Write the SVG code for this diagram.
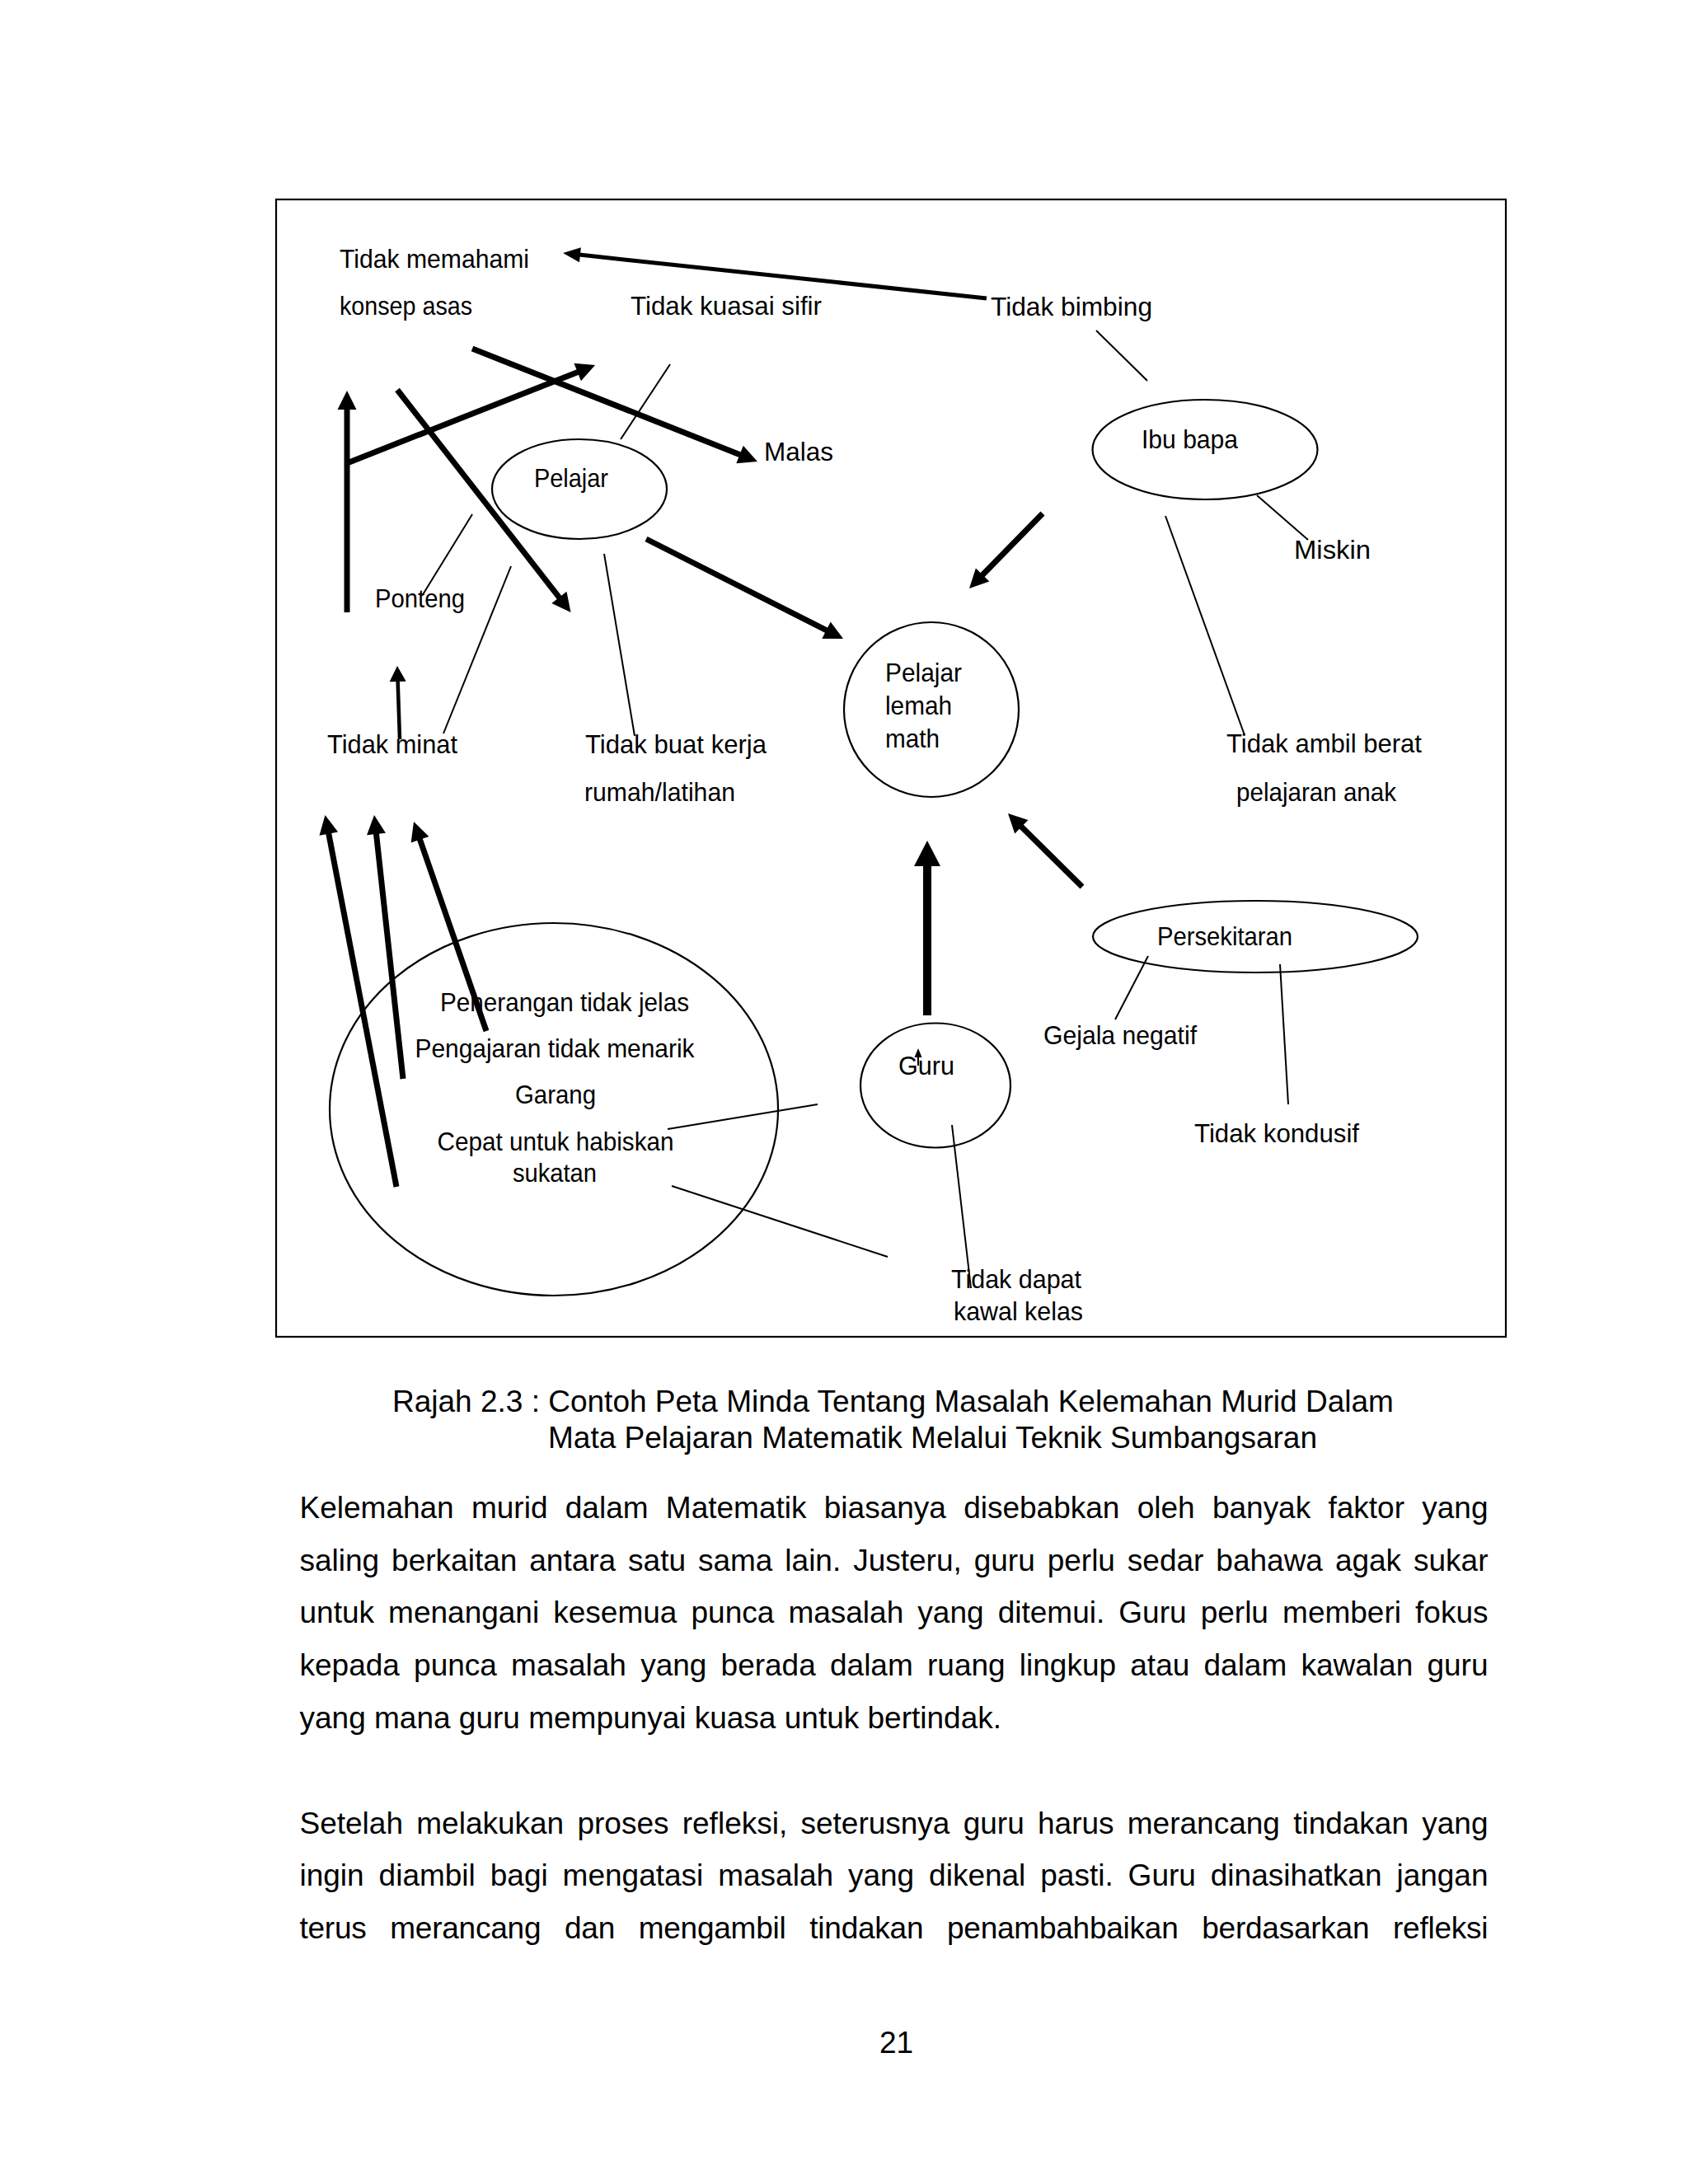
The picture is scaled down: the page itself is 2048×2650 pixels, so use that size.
<svg xmlns="http://www.w3.org/2000/svg" width="2048" height="2650" viewBox="0 0 2048 2650">
<style>
.t{font-family:"Liberation Sans",Arial,sans-serif;font-size:32px;fill:#000}
.b{font-family:"Liberation Sans",Arial,sans-serif;font-size:37px;fill:#000}
.n{fill:none;stroke:#000;stroke-width:2.2}
.thin{stroke:#000;stroke-width:2;fill:none}
.thick{stroke:#000;stroke-width:7;fill:none;marker-end:url(#ah)}
</style>
<defs>
<marker id="ah" markerUnits="userSpaceOnUse" markerWidth="30" markerHeight="30" refX="0" refY="0" orient="auto" overflow="visible"><path d="M-1,-11.5 L22,0 L-1,11.5 z" fill="#000"/></marker>
<marker id="ahm" markerUnits="userSpaceOnUse" markerWidth="30" markerHeight="30" refX="0" refY="0" orient="auto" overflow="visible"><path d="M-1,-9 L20,0 L-1,9 z" fill="#000"/></marker>
<marker id="ahs" markerUnits="userSpaceOnUse" markerWidth="30" markerHeight="30" refX="0" refY="0" orient="auto" overflow="visible"><path d="M-1,-10 L18,0 L-1,10 z" fill="#000"/></marker>
<marker id="ahg" markerUnits="userSpaceOnUse" markerWidth="40" markerHeight="40" refX="0" refY="0" orient="auto" overflow="visible"><path d="M-1,-16 L30,0 L-1,16 z" fill="#000"/></marker>
<marker id="aht" markerUnits="userSpaceOnUse" markerWidth="20" markerHeight="20" refX="0" refY="0" orient="auto" overflow="visible"><path d="M-1,-4.5 L10,0 L-1,4.5 z" fill="#000"/></marker>
</defs>
<rect width="2048" height="2650" fill="#fff"/>
<rect id="frame" x="335" y="242" width="1492" height="1380" fill="none" stroke="#000" stroke-width="2.2"/>

<g id="connectors">
<line x1="1197" y1="362" x2="702.9" y2="309.1" stroke="#000" stroke-width="5" marker-end="url(#ahm)"/>
<line class="thick" x1="573" y1="423" x2="898.5" y2="551.9"/>
<line class="thick" x1="421" y1="562" x2="701.6" y2="451.2"/>
<line class="thick" x1="421" y1="743" x2="421" y2="496"/>
<line class="thick" x1="482" y1="473" x2="679" y2="725.7"/>
<line class="thick" x1="784" y1="654" x2="1003.4" y2="765.1"/>
<line class="thick" x1="1265" y1="623" x2="1191.4" y2="698.3" stroke-width="8"/>
<line class="thick" x1="1313" y1="1076" x2="1238.6" y2="1002.5" stroke-width="6.5"/>
<line x1="1125" y1="1232" x2="1125" y2="1050" stroke="#000" stroke-width="10" marker-end="url(#ahg)"/>
<line x1="1114" y1="1293" x2="1114" y2="1282" stroke="#000" stroke-width="2" marker-end="url(#aht)"/>
<line x1="485" y1="897" x2="482.6" y2="826" stroke="#000" stroke-width="4.5" marker-end="url(#ahs)"/>
<line class="thick" x1="481" y1="1440" x2="398.6" y2="1010.6"/>
<line class="thick" x1="489" y1="1309" x2="456.4" y2="1010.9"/>
<line class="thick" x1="590" y1="1251" x2="509.2" y2="1017.8"/>
<line class="thin" x1="813" y1="442" x2="753" y2="533"/>
<line class="thin" x1="573" y1="624" x2="512" y2="723"/>
<line class="thin" x1="620" y1="687" x2="538" y2="890"/>
<line class="thin" x1="733" y1="672" x2="770" y2="893"/>
<line class="thin" x1="1330" y1="401" x2="1392" y2="462"/>
<line class="thin" x1="1525" y1="601" x2="1587" y2="655"/>
<line class="thin" x1="1414" y1="626" x2="1510" y2="892"/>
<line class="thin" x1="1393" y1="1160" x2="1353" y2="1237"/>
<line class="thin" x1="1553" y1="1170" x2="1563" y2="1340"/>
<line class="thin" x1="1155" y1="1365" x2="1178" y2="1563"/>
<line class="thin" x1="810" y1="1370" x2="992" y2="1340"/>
<line class="thin" x1="815" y1="1439" x2="1077" y2="1525"/>
</g>

<g id="node-pelajar"><ellipse class="n" cx="703" cy="593.5" rx="106" ry="60.5"/><text class="t" x="648" y="591" textLength="90" lengthAdjust="spacingAndGlyphs">Pelajar</text></g>
<g id="node-ibubapa"><ellipse class="n" cx="1462" cy="545.5" rx="136.5" ry="60.5"/><text class="t" x="1385" y="544" textLength="117" lengthAdjust="spacingAndGlyphs">Ibu bapa</text></g>
<g id="node-center"><ellipse class="n" cx="1130" cy="861" rx="106" ry="106"/>
<text class="t" x="1074" y="827" textLength="93" lengthAdjust="spacingAndGlyphs">Pelajar</text>
<text class="t" x="1074" y="867" textLength="81" lengthAdjust="spacingAndGlyphs">lemah</text>
<text class="t" x="1074" y="907" textLength="66" lengthAdjust="spacingAndGlyphs">math</text></g>
<g id="node-persekitaran"><ellipse class="n" cx="1523" cy="1136.5" rx="197" ry="43.5"/><text class="t" x="1404" y="1147" textLength="164" lengthAdjust="spacingAndGlyphs">Persekitaran</text></g>
<g id="node-guru"><ellipse class="n" cx="1135" cy="1317" rx="91" ry="75.5"/><text class="t" x="1090" y="1304" textLength="68" lengthAdjust="spacingAndGlyphs">Guru</text></g>
<g id="node-guru-issues"><ellipse class="n" cx="672" cy="1346" rx="272" ry="226"/>
<text class="t" x="534" y="1227" textLength="302" lengthAdjust="spacingAndGlyphs">Penerangan tidak jelas</text>
<text class="t" x="503.5" y="1283" textLength="339" lengthAdjust="spacingAndGlyphs">Pengajaran tidak menarik</text>
<text class="t" x="625" y="1339" textLength="98" lengthAdjust="spacingAndGlyphs">Garang</text>
<text class="t" x="530.5" y="1396" textLength="287" lengthAdjust="spacingAndGlyphs">Cepat untuk habiskan</text>
<text class="t" x="622" y="1434" textLength="102" lengthAdjust="spacingAndGlyphs">sukatan</text></g>

<g id="label-memahami"><text class="t" x="412" y="325" textLength="230" lengthAdjust="spacingAndGlyphs">Tidak memahami</text><text class="t" x="412" y="382" textLength="161" lengthAdjust="spacingAndGlyphs">konsep asas</text></g>
<g id="label-sifir"><text class="t" x="765" y="382" textLength="232" lengthAdjust="spacingAndGlyphs">Tidak kuasai sifir</text></g>
<g id="label-bimbing"><text class="t" x="1202" y="383" textLength="196" lengthAdjust="spacingAndGlyphs">Tidak bimbing</text></g>
<g id="label-malas"><text class="t" x="927" y="559" textLength="84" lengthAdjust="spacingAndGlyphs">Malas</text></g>
<g id="label-miskin"><text class="t" x="1570" y="678" textLength="93" lengthAdjust="spacingAndGlyphs">Miskin</text></g>
<g id="label-ponteng"><text class="t" x="455" y="737" textLength="109" lengthAdjust="spacingAndGlyphs">Ponteng</text></g>
<g id="label-minat"><text class="t" x="397" y="914" textLength="158" lengthAdjust="spacingAndGlyphs">Tidak minat</text></g>
<g id="label-kerja"><text class="t" x="710" y="914" textLength="220" lengthAdjust="spacingAndGlyphs">Tidak buat kerja</text><text class="t" x="709" y="972" textLength="183" lengthAdjust="spacingAndGlyphs">rumah/latihan</text></g>
<g id="label-ambilberat"><text class="t" x="1488" y="913" textLength="237" lengthAdjust="spacingAndGlyphs">Tidak ambil berat</text><text class="t" x="1500" y="972" textLength="194" lengthAdjust="spacingAndGlyphs">pelajaran anak</text></g>
<g id="label-gejala"><text class="t" x="1266" y="1267" textLength="186" lengthAdjust="spacingAndGlyphs">Gejala negatif</text></g>
<g id="label-kondusif"><text class="t" x="1449" y="1386" textLength="200" lengthAdjust="spacingAndGlyphs">Tidak kondusif</text></g>
<g id="label-kawal"><text class="t" x="1154" y="1563" textLength="158" lengthAdjust="spacingAndGlyphs">Tidak dapat</text><text class="t" x="1157" y="1602" textLength="157" lengthAdjust="spacingAndGlyphs">kawal kelas</text></g>

<g id="caption">
<text class="b" x="476" y="1713">Rajah 2.3 : Contoh Peta Minda Tentang Masalah Kelemahan Murid Dalam</text>
<text class="b" x="665" y="1757">Mata Pelajaran Matematik Melalui Teknik Sumbangsaran</text>
</g>
<g id="body">
<text class="b" x="363.5" y="1842" word-spacing="11" textLength="1442" lengthAdjust="spacing">Kelemahan murid dalam Matematik biasanya disebabkan oleh banyak faktor yang</text>
<text class="b" x="363.5" y="1906" word-spacing="4.65" textLength="1442" lengthAdjust="spacing">saling berkaitan antara satu sama lain. Justeru, guru perlu sedar bahawa agak sukar</text>
<text class="b" x="363.5" y="1969" word-spacing="6.83" textLength="1442" lengthAdjust="spacing">untuk menangani kesemua punca masalah yang ditemui. Guru perlu memberi fokus</text>
<text class="b" x="363.5" y="2033" word-spacing="6.95" textLength="1442" lengthAdjust="spacing">kepada punca masalah yang berada dalam ruang lingkup atau dalam kawalan guru</text>
<text class="b" x="363.5" y="2097">yang mana guru mempunyai kuasa untuk bertindak.</text>
<text class="b" x="363.5" y="2225" word-spacing="5.98" textLength="1442" lengthAdjust="spacing">Setelah melakukan proses refleksi, seterusnya guru harus merancang tindakan yang</text>
<text class="b" x="363.5" y="2288" word-spacing="7.65" textLength="1442" lengthAdjust="spacing">ingin diambil bagi mengatasi masalah yang dikenal pasti. Guru dinasihatkan jangan</text>
<text class="b" x="363.5" y="2352" word-spacing="18.7" textLength="1442" lengthAdjust="spacing">terus merancang dan mengambil tindakan penambahbaikan berdasarkan refleksi</text>
<text class="b" x="1067" y="2491">21</text>
</g>
</svg>
